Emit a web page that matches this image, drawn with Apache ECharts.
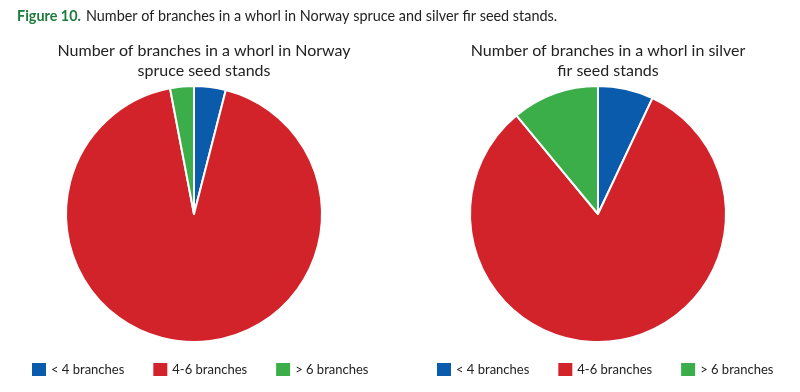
<!DOCTYPE html>
<html><head><meta charset="utf-8">
<script src="https://cdn.jsdelivr.net/npm/echarts@6/dist/echarts.min.js"></script>
<style>html,body{margin:0;padding:0;background:#fff}#c{width:800px;height:392px}</style>
</head><body><div id="c"></div>
<script>
const categories = ['< 4 branches', '4-6 branches', '> 6 branches'];
const spruceValues = [4, 93, 3];
const firValues = [7, 82, 11];
const chartTitles = ['Number of branches in a whorl in Norway\nspruce seed stands', 'Number of branches in a whorl in silver\nfir seed stands'];
const colors = ['#0a5bab', '#d2232a', '#3cae49'];
const FONT = 'Lato';

const chart = echarts.init(document.getElementById('c'), null, {renderer: 'canvas'});
const mk = (vals) => categories.map((n, i) => ({name: n, value: vals[i]}));
const pieBase = {
  type: 'pie', radius: 128, startAngle: 90, clockwise: true, silent: true,
  label: {show: false}, labelLine: {show: false},
  itemStyle: {borderColor: '#fff', borderWidth: 2},
  animation: false
};
const legendBase = {
  data: categories, icon: 'rect', itemWidth: 16, itemHeight: 15, itemGap: 27,
  top: 361, padding: 0, selectedMode: false,
  textStyle: {fontFamily: FONT, fontSize: 13, color: '#222', padding: [0,0,0,-1]}
};
chart.setOption({
  color: colors,
  title: [
    {text: '{b|Figure 10.} {n|Number of branches in a whorl in Norway spruce and silver fir seed stands.}',
     left: 17, top: 7, padding: 0,
     textStyle: {fontWeight: 'normal', rich: {b: {fontFamily: FONT, fontWeight: 'bold', fontSize: 14.4, color: '#1e7b3b'},
                        n: {fontFamily: FONT, fontWeight: 'normal', fontSize: 14.4, color: '#222'}}}},
    {text: chartTitles[0], left: 204, top: 41, textAlign: 'center', padding: 0,
     textStyle: {fontFamily: FONT, fontWeight: 'normal', fontSize: 16, color: '#222', lineHeight: 20}},
    {text: chartTitles[1], left: 608, top: 41, textAlign: 'center', padding: 0,
     textStyle: {fontFamily: FONT, fontWeight: 'normal', fontSize: 16, color: '#222', lineHeight: 20}}
  ],
  legend: [
    Object.assign({left: 30}, legendBase),
    Object.assign({left: 435}, legendBase)
  ],
  series: [
    Object.assign({center: [194, 214], data: mk(spruceValues)}, pieBase),
    Object.assign({center: [598, 214], data: mk(firValues)}, pieBase)
  ]
});
</script></body></html>
